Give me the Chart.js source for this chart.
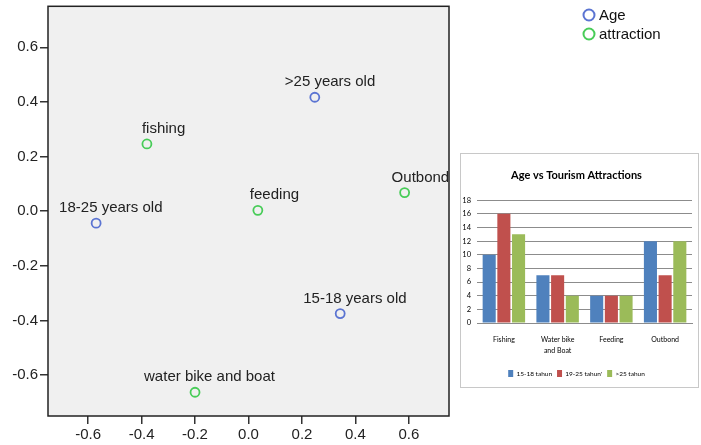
<!DOCTYPE html>
<html lang="en">
<head>
<meta charset="UTF-8" />
<title>Age vs attraction</title>
<style>
  body { margin: 0; background: #fff; }
  #wrap { position: relative; width: 701px; height: 445px; overflow: hidden; }
  #map { position: absolute; left: 0; top: 0; }
  #inset {
    position: absolute; left: 460px; top: 153px;
    width: 237px; height: 233px;
    border: 1px solid #c8c8c8; background: #fff;
  }
</style>
</head>
<body>
<div id="wrap">
  <canvas id="map" width="701" height="445"></canvas>
  <div id="inset"><canvas id="bars" width="237" height="233"></canvas></div>
</div>

<script src="https://cdn.jsdelivr.net/npm/chart.js"></script>
<script>
  // correspondence map (dimension 1 / dimension 2)
  const ageNames = ["15-18 years old", "18-25 years old", ">25 years old"];
  const ageDim1 = [0.343, -0.57, 0.248];
  const ageDim2 = [-0.375, -0.044, 0.417];

  const attrNames = ["fishing", "water bike and boat", "feeding", "Outbond"];
  const attrDim1 = [-0.38, -0.2, 0.035, 0.584];
  const attrDim2 = [0.246, -0.663, 0.003, 0.068];

  const mapTicks = [-0.6, -0.4, -0.2, 0, 0.2, 0.4, 0.6];

  // inset bar chart
  const attractions = ["Fishing", ["Water bike", "and Boat"], "Feeding", "Outbond"];
  const ageGroups = ["15-18 tahun", "19-25 tahun'", ">25 tahun"];
  const count1518 = [10, 7, 4, 12];
  const count1925 = [16, 7, 4, 7];
  const countOver25 = [13, 4, 4, 12];
  const barTicks = [0, 2, 4, 6, 8, 10, 12, 14, 16, 18];

  const FONT = '"Liberation Sans", Arial, sans-serif';
  const SMALL = 'Lato, "Liberation Sans", Arial, sans-serif';

  // label position tweaks (px from point), like SPSS places them
  const labelShift = {
    "15-18 years old": -37, "18-25 years old": -37, ">25 years old": -30,
    "fishing": -5, "water bike and boat": -51, "feeding": -8, "Outbond": -13,
  };

  const plotFrame = {
    id: "plotFrame",
    beforeDraw(chart) {
      const a = chart.chartArea, ctx = chart.ctx;
      ctx.save();
      ctx.fillStyle = "#f0f0f0";
      ctx.fillRect(a.left, a.top, a.right - a.left, a.bottom - a.top);
      ctx.restore();
    },
    afterDraw(chart) {
      const a = chart.chartArea, ctx = chart.ctx;
      ctx.save();
      ctx.strokeStyle = "#222";
      ctx.lineWidth = 1.5;
      ctx.strokeRect(a.left, a.top, a.right - a.left, a.bottom - a.top);
      ctx.restore();
    },
  };

  const pointLabels = {
    id: "pointLabels",
    afterDatasetsDraw(chart) {
      const ctx = chart.ctx;
      ctx.save();
      ctx.font = "15px " + FONT;
      ctx.fillStyle = "#222";
      ctx.textBaseline = "alphabetic";
      chart.data.datasets.forEach((ds, di) => {
        chart.getDatasetMeta(di).data.forEach((pt, i) => {
          const name = ds.names[i];
          ctx.fillText(name, pt.x + (labelShift[name] || 0), pt.y - 11);
        });
      });
      ctx.restore();
    },
  };

  const cornerLegend = {
    id: "cornerLegend",
    afterDraw(chart) {
      const ctx = chart.ctx;
      ctx.save();
      ctx.font = "15px " + FONT;
      ctx.textBaseline = "middle";
      chart.data.datasets.forEach((ds, i) => {
        const y = 15 + i * 19;
        ctx.beginPath();
        ctx.arc(589, y, 5.5, 0, Math.PI * 2);
        ctx.strokeStyle = ds.borderColor;
        ctx.lineWidth = 2;
        ctx.stroke();
        ctx.fillStyle = "#111";
        ctx.fillText(ds.label, 599, y + 1);
      });
      ctx.restore();
    },
  };

  function mapAxis(fit) {
    return {
      type: "linear",
      min: -0.75,
      max: 0.75,
      afterBuildTicks: (ax) => { ax.ticks = mapTicks.map((v) => ({ value: v })); },
      afterFit: fit,
      ticks: {
        callback: (v) => Number(v).toFixed(1),
        font: { family: FONT, size: 15 },
        color: "#222",
        padding: 2,
      },
      grid: { drawOnChartArea: false, tickLength: 8, color: "#333", lineWidth: 1.5 },
      border: { display: false },
    };
  }

  new Chart(document.getElementById("map"), {
    type: "scatter",
    data: {
      datasets: [
        {
          label: "Age",
          names: ageNames,
          data: ageDim1.map((x, i) => ({ x: x, y: ageDim2[i] })),
          borderColor: "#5b74d2",
          backgroundColor: "rgba(0,0,0,0)",
          pointRadius: 4.5,
          borderWidth: 1.8,
        },
        {
          label: "attraction",
          names: attrNames,
          data: attrDim1.map((x, i) => ({ x: x, y: attrDim2[i] })),
          borderColor: "#48cc58",
          backgroundColor: "rgba(0,0,0,0)",
          pointRadius: 4.5,
          borderWidth: 1.8,
        },
      ],
    },
    options: {
      responsive: false,
      animation: false,
      events: [],
      layout: { padding: { top: 5, right: 252, bottom: 0, left: 0 } },
      plugins: { legend: { display: false }, tooltip: { enabled: false } },
      scales: {
        x: mapAxis((s) => { s.height = 29; s.paddingLeft = 0; s.paddingRight = 0; }),
        y: mapAxis((s) => { s.width = 48; s.paddingTop = 0; s.paddingBottom = 0; }),
      },
    },
    plugins: [plotFrame, pointLabels, cornerLegend],
  });

  const barColors = ["#4f81bd", "#c0504d", "#9bbb59"];
  const barSeries = [count1518, count1925, countOver25];

  new Chart(document.getElementById("bars"), {
    type: "bar",
    data: {
      labels: attractions,
      datasets: ageGroups.map((g, i) => ({
        label: g,
        data: barSeries[i],
        backgroundColor: barColors[i],
        categoryPercentage: 0.82,
        barPercentage: 0.89,
      })),
    },
    options: {
      responsive: false,
      animation: false,
      events: [],
      layout: { padding: { top: 0, right: 6, bottom: 0, left: 0 } },
      plugins: {
        title: {
          display: true,
          text: "Age vs Tourism Attractions",
          color: "#000",
          font: { family: SMALL, size: 11, weight: "bold", lineHeight: 1.2 },
          padding: { top: 15, bottom: 18 },
        },
        legend: {
          position: "bottom",
          labels: {
            boxWidth: 5,
            boxHeight: 7,
            padding: 5,
            color: "#000",
            font: { family: SMALL, size: 6.5 },
          },
        },
        tooltip: { enabled: false },
      },
      scales: {
        x: {
          grid: { display: false, drawTicks: false },
          border: { color: "#8c8c8c" },
          ticks: {
            font: { family: SMALL, size: 7, lineHeight: 1.6 },
            color: "#000",
            padding: 11,
            maxRotation: 0,
          },
          afterFit: (s) => { s.height = 42; },
        },
        y: {
          min: 0,
          max: 18,
          afterBuildTicks: (ax) => { ax.ticks = barTicks.map((v) => ({ value: v })); },
          grid: { color: "#8c8c8c", drawTicks: false },
          border: { display: false },
          ticks: { font: { family: SMALL, size: 7.5 }, color: "#000", padding: 6 },
          afterFit: (s) => { s.width = 16; s.paddingTop = 0; s.paddingBottom = 0; },
        },
      },
    },
  });
</script>
</body>
</html>
